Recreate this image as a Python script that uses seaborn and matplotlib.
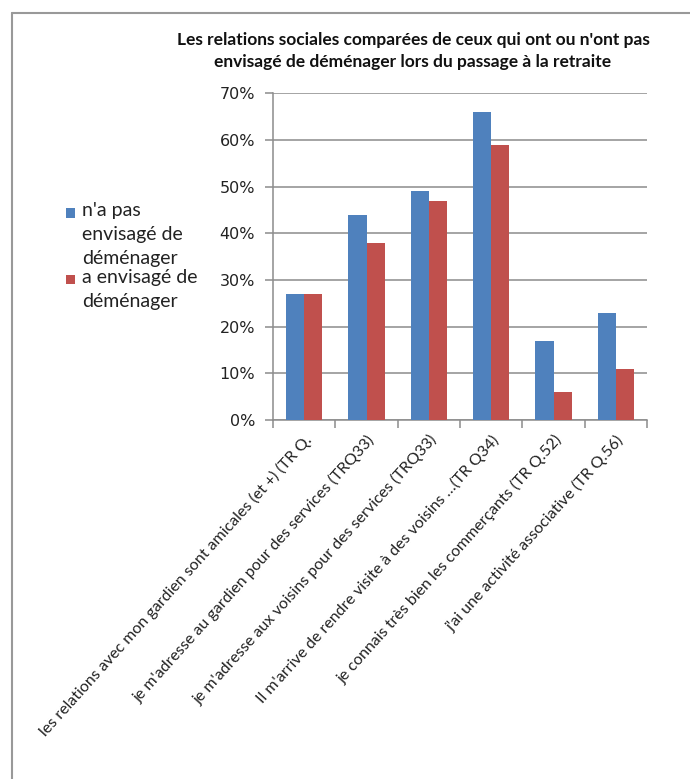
import matplotlib
matplotlib.use("Agg")
import matplotlib.pyplot as plt
from matplotlib.patches import Rectangle
from matplotlib.lines import Line2D
import seaborn as sns
import pandas as pd

categories = [
    "les relations avec mon gardien sont amicales (et +) (TR Q.",
    "je m'adresse au gardien pour des services (TRQ33)",
    "je m'adresse aux voisins pour des services (TRQ33)",
    "Il m'arrive de rendre visite à des voisins …(TR Q34)",
    "je connais très bien les commerçants (TR Q.52)",
    "j'ai une activité associative (TR Q.56)",
]
series_names = ["n'a pas envisagé de déménager", "a envisagé de déménager"]
legend_labels = ["n'a pas\nenvisagé de\ndéménager", "a envisagé de\ndéménager"]
vals_not = [27, 44, 49, 66, 17, 23]
vals_yes = [27, 38, 47, 59, 6, 11]
ytick_labels = ["0%", "10%", "20%", "30%", "40%", "50%", "60%", "70%"]
title = "Les relations sociales comparées de ceux qui ont ou n'ont pas\nenvisagé de déménager lors du passage à la retraite"
colors = ["#4F81BD", "#C0504D"]

df = pd.DataFrame({
    "cat": categories * 2,
    "serie": [series_names[0]] * len(categories) + [series_names[1]] * len(categories),
    "val": vals_not + vals_yes,
})

sns.set_theme(style="white")
plt.rcParams["font.family"] = ["Lato", "DejaVu Sans"]

fig = plt.figure(figsize=(6.9, 7.79), dpi=100)
ax = fig.add_axes([0.3957, 0.4609, 0.5420, 0.4191])

sns.barplot(data=df, x="cat", y="val", hue="serie", palette=colors,
            width=0.58, saturation=1, ax=ax, legend=False, zorder=3)

for p in ax.patches:
    p.set_edgecolor("none")

ax.set_ylim(0, 70)
ax.set_xlim(-0.5, len(categories) - 0.5)
ax.set_yticks(range(0, 71, 10))
ax.set_yticklabels(ytick_labels, family="DejaVu Sans", fontsize=11.5, color="#222222")
ax.yaxis.grid(True, color="#8c8c8c", linewidth=1.1, zorder=0)
ax.set_axisbelow(True)
ax.set_xlabel("")
ax.set_ylabel("")

ax.set_xticks([i for i in range(len(categories))])
ax.set_xticklabels(categories, rotation=48, ha="right", va="top", rotation_mode="anchor",
                   fontsize=11.5, color="#222222")
ax.tick_params(axis="x", length=0, pad=9)
ax.tick_params(axis="y", length=6, width=1.1, color="#8c8c8c", direction="out", pad=7, left=True)
ax.set_xticks([i - 0.5 for i in range(len(categories) + 1)], minor=True)
ax.tick_params(axis="x", which="minor", length=6, width=1.1, color="#8c8c8c", direction="out", bottom=True)

for s in ["top", "right"]:
    ax.spines[s].set_visible(False)
for s in ["left", "bottom"]:
    ax.spines[s].set_color("#8c8c8c")
    ax.spines[s].set_linewidth(1.1)

fig.text(413 / 690, 1 - 51 / 779, title, ha="center", va="center", fontsize=12.5,
         fontweight="bold", linespacing=1.45, color="#111111")

W, H = 690, 779
legend_y = [213, 279]
text_top = [202, 269]
for col, lab, ly, ty in zip(colors, legend_labels, legend_y, text_top):
    fig.patches.append(Rectangle((66 / W, 1 - (ly + 4.5) / H), 9 / W, 9 / H,
                                 transform=fig.transFigure, facecolor=col, edgecolor="none"))
    fig.text(82 / W, 1 - ty / H, lab, ha="left", va="top", fontsize=14,
             linespacing=1.5, color="#222222")

fig.add_artist(Line2D([12 / W, 1], [1 - 13 / H, 1 - 13 / H], transform=fig.transFigure,
                      color="#999999", linewidth=1.5))
fig.add_artist(Line2D([12 / W, 12 / W], [0, 1 - 13 / H], transform=fig.transFigure,
                      color="#999999", linewidth=1.5))

fig.savefig("out.png", dpi=100, facecolor="white")
